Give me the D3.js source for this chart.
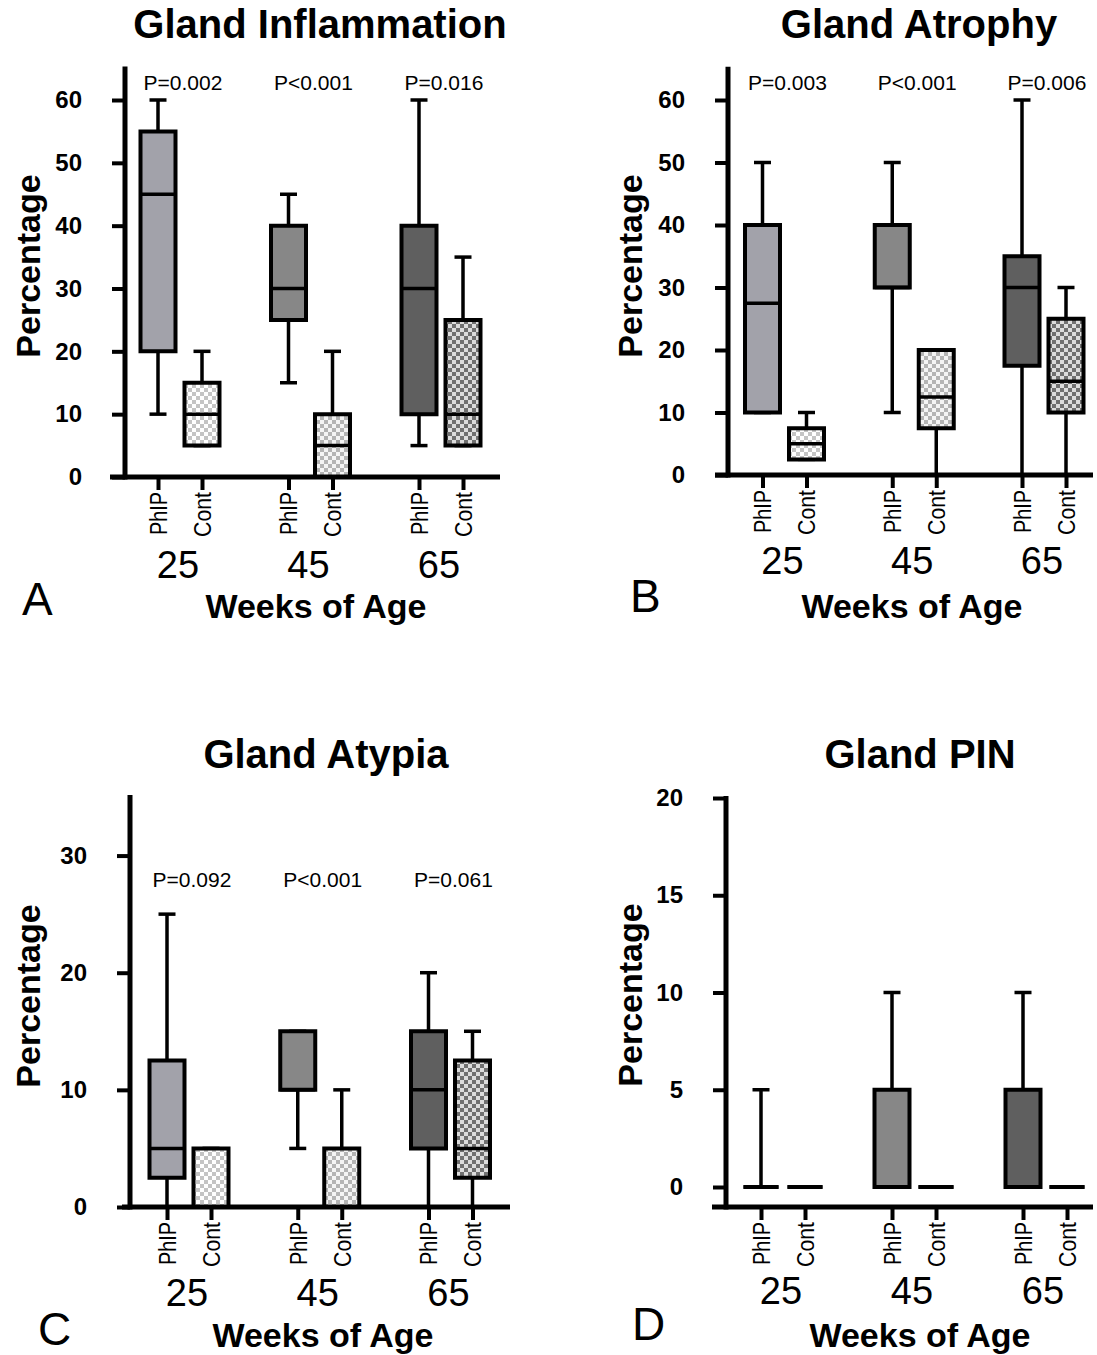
<!DOCTYPE html>
<html>
<head>
<meta charset="utf-8">
<script src="https://cdn.jsdelivr.net/npm/d3@7"></script>
<style>
  body { margin: 0; background: #fff; }
  svg { display: block; font-family: "Liberation Sans", Arial, sans-serif; }
</style>
</head>
<body>
<div id="chart"></div>
<script>
const weeks = ["25", "45", "65"];
const groups = ["PhIP", "Cont"];

// box stats per week: [min, q1, median, q3, max]
const inflammationPhIP = [[10, 20, 45, 55, 60], [15, 25, 30, 40, 45], [5, 10, 30, 40, 60]];
const inflammationCont = [[5, 5, 10, 15, 20], [0, 0, 5, 10, 20], [5, 5, 10, 25, 35]];
const inflammationP = ["P=0.002", "P<0.001", "P=0.016"];

const atrophyPhIP = [[10, 10, 27.5, 40, 50], [10, 30, 30, 40, 50], [0, 17.5, 30, 35, 60]];
const atrophyCont = [[2.5, 2.5, 5, 7.5, 10], [0, 7.5, 12.5, 20, 20], [0, 10, 15, 25, 30]];
const atrophyP = ["P=0.003", "P<0.001", "P=0.006"];

const atypiaPhIP = [[0, 2.5, 5, 12.5, 25], [5, 10, 10, 15, 15], [0, 5, 10, 15, 20]];
const atypiaCont = [[0, 0, 0, 5, 5], [0, 0, 0, 5, 10], [0, 2.5, 5, 12.5, 15]];
const atypiaP = ["P=0.092", "P<0.001", "P=0.061"];

const pinPhIP = [[0, 0, 0, 0, 5], [0, 0, 0, 5, 10], [0, 0, 0, 5, 10]];
const pinCont = [[0, 0, 0, 0, 0], [0, 0, 0, 0, 0], [0, 0, 0, 0, 0]];

const ticksHigh = [0, 10, 20, 30, 40, 50, 60];
const ticksAtypia = [0, 10, 20, 30];
const ticksPin = [0, 5, 10, 15, 20];

const phipFill = {"25": "#a2a2aa", "45": "#878787", "65": "#5f5f5f"};
const contInk = {"25": "#c4c4c4", "45": "#b4b4b4", "65": "#707070"};
const contPaper = {"25": "#ffffff", "45": "#f4f4f4", "65": "#dcdcdc"};

// panel layout (pixels)
const panels = [
  {title: "Gland Inflammation", letter: "A", phip: inflammationPhIP, cont: inflammationCont, pvals: inflammationP,
   ticks: ticksHigh, yMax: 60, axisTop: 65, ax: 125, y0: 477, yTop: 100, axisY: 477,
   xStart: 110, xEnd: 500, g0: 180, g2: 441, pY: 90, titleX: 320, titleY: 38,
   letterX: 22, letterY: 615, numY: 578, woaX: 316, woaY: 618, percX: 40, percY: 266},
  {title: "Gland Atrophy", letter: "B", phip: atrophyPhIP, cont: atrophyCont, pvals: atrophyP,
   ticks: ticksHigh, yMax: 60, axisTop: 65, ax: 728, y0: 475, yTop: 100, axisY: 475,
   xStart: 715, xEnd: 1093, g0: 784.5, g2: 1044, pY: 90, titleX: 919, titleY: 38,
   letterX: 630, letterY: 612, numY: 574, woaX: 912, woaY: 618, percX: 642, percY: 266},
  {title: "Gland Atypia", letter: "C", phip: atypiaPhIP, cont: atypiaCont, pvals: atypiaP,
   ticks: ticksAtypia, yMax: 35, axisTop: 35, ax: 130, y0: 1207, yTop: 797, axisY: 1207,
   xStart: 122, xEnd: 510, g0: 189, g2: 450.5, pY: 887, titleX: 326, titleY: 768,
   letterX: 38, letterY: 1345, numY: 1306, woaX: 323, woaY: 1347, percX: 40, percY: 996},
  {title: "Gland PIN", letter: "D", phip: pinPhIP, cont: pinCont, pvals: null,
   ticks: ticksPin, yMax: 20, axisTop: 20, ax: 726, y0: 1187, yTop: 798, axisY: 1207,
   xStart: 712, xEnd: 1093, g0: 783, g2: 1045, pY: 0, titleX: 920, titleY: 768,
   letterX: 632, letterY: 1340, numY: 1304, woaX: 920, woaY: 1347, percX: 642, percY: 995}
];

const svg = d3.select("#chart").append("svg")
    .attr("width", 1097)
    .attr("height", 1355);

// checkered patterns for the control boxes
const defs = svg.append("defs");
weeks.forEach(function(w) {
  const p = defs.append("pattern")
      .attr("id", "chk" + w)
      .attr("width", 8).attr("height", 8)
      .attr("patternUnits", "userSpaceOnUse");
  p.append("rect").attr("width", 8).attr("height", 8).attr("fill", contPaper[w]);
  p.append("rect").attr("width", 4).attr("height", 4).attr("fill", contInk[w]);
  p.append("rect").attr("x", 4).attr("y", 4).attr("width", 4).attr("height", 4).attr("fill", contInk[w]);
});

const boxW = 35, capW = 17;

panels.forEach(function(pn) {
  const g = svg.append("g");

  var y = d3.scaleLinear().domain([0, pn.yMax]).range([pn.y0, pn.yTop]);
  var xGroup = d3.scalePoint().domain(weeks).range([pn.g0, pn.g2]);
  var xSub = d3.scalePoint().domain(groups).range([-22, 22]);

  // whiskers and boxes
  weeks.forEach(function(w, i) {
    groups.forEach(function(grp) {
      const s = grp === "PhIP" ? pn.phip[i] : pn.cont[i];
      const cx = xGroup(w) + xSub(grp);
      const fill = grp === "PhIP" ? phipFill[w] : "url(#chk" + w + ")";

      g.append("line")
          .attr("x1", cx).attr("x2", cx)
          .attr("y1", y(s[0])).attr("y2", y(s[4]))
          .attr("stroke", "#000").attr("stroke-width", 3.5);
      [s[0], s[4]].forEach(function(v) {
        g.append("line")
            .attr("x1", cx - capW / 2).attr("x2", cx + capW / 2)
            .attr("y1", y(v)).attr("y2", y(v))
            .attr("stroke", "#000").attr("stroke-width", 3.5);
      });
      const x0 = cx - boxW / 2, x1 = cx + boxW / 2;
      g.append("path")
          .attr("d", "M" + x0 + "," + y(s[1]) + "H" + x1 + "V" + y(s[3]) + "H" + x0 + "Z")
          .attr("fill", fill)
          .attr("stroke", "#000").attr("stroke-width", 4)
          .attr("stroke-linejoin", "miter");
      g.append("line")
          .attr("x1", x0).attr("x2", x1)
          .attr("y1", y(s[2])).attr("y2", y(s[2]))
          .attr("stroke", "#000").attr("stroke-width", 3.5);
    });
  });

  // y axis
  const yAxis = g.append("g")
      .attr("transform", "translate(" + pn.ax + ",0)")
      .call(d3.axisLeft(y).tickValues(pn.ticks).tickSize(13).tickSizeOuter(0).tickPadding(30));
  yAxis.select(".domain").remove();
  yAxis.selectAll(".tick line").attr("stroke", "#000").attr("stroke-width", 4);
  yAxis.selectAll(".tick text")
      .attr("fill", "#000")
      .style("font-size", "24px").style("font-weight", "bold")
      .style("font-family", "'Liberation Sans', Arial, sans-serif");
  g.append("line")
      .attr("x1", pn.ax).attr("x2", pn.ax)
      .attr("y1", pn.axisY + 2.5).attr("y2", y(pn.axisTop) - 2)
      .attr("stroke", "#000").attr("stroke-width", 5);

  // x axis: one tick per box
  const keys = [], pos = [];
  weeks.forEach(function(w) {
    groups.forEach(function(grp) {
      keys.push(w + "|" + grp);
      pos.push(xGroup(w) + xSub(grp));
    });
  });
  const xBox = d3.scaleOrdinal().domain(keys).range(pos);
  const xAxis = g.append("g")
      .attr("transform", "translate(0," + pn.axisY + ")")
      .call(d3.axisBottom(xBox).tickSize(13).tickFormat(function(d) { return d.split("|")[1]; }));
  xAxis.select(".domain").remove();
  xAxis.selectAll(".tick line").attr("stroke", "#000").attr("stroke-width", 4);
  xAxis.selectAll(".tick text")
      .attr("fill", "#000")
      .attr("transform", "rotate(-90)")
      .attr("x", -15).attr("y", 0).attr("dy", "0.36em")
      .attr("text-anchor", "end")
      .attr("textLength", function(d) { return d.split("|")[1] === "PhIP" ? 43 : 45; })
      .attr("lengthAdjust", "spacingAndGlyphs")
      .style("font-size", "23px")
      .style("font-family", "'Liberation Sans', Arial, sans-serif");
  g.append("line")
      .attr("x1", pn.xStart).attr("x2", pn.xEnd)
      .attr("y1", pn.axisY).attr("y2", pn.axisY)
      .attr("stroke", "#000").attr("stroke-width", 5);

  // week numbers
  g.selectAll(".wk").data(weeks).enter().append("text")
      .attr("x", function(d) { return xGroup(d) - 2; })
      .attr("y", pn.numY)
      .attr("text-anchor", "middle")
      .style("font-size", "38px")
      .text(function(d) { return d; });

  // p values
  if (pn.pvals) {
    g.selectAll(".pv").data(weeks).enter().append("text")
        .attr("x", function(d) { return xGroup(d) + 3; })
        .attr("y", pn.pY)
        .attr("text-anchor", "middle")
        .style("font-size", "21px")
        .text(function(d, i) { return pn.pvals[i]; });
  }

  g.append("text")
      .attr("x", pn.titleX).attr("y", pn.titleY)
      .attr("text-anchor", "middle")
      .style("font-size", "40px").style("font-weight", "bold")
      .text(pn.title);

  g.append("text")
      .attr("transform", "translate(" + pn.percX + "," + pn.percY + ") rotate(-90)")
      .attr("text-anchor", "middle")
      .style("font-size", "34px").style("font-weight", "bold")
      .text("Percentage");

  g.append("text")
      .attr("x", pn.woaX).attr("y", pn.woaY)
      .attr("text-anchor", "middle")
      .style("font-size", "34px").style("font-weight", "bold")
      .text("Weeks of Age");

  g.append("text")
      .attr("x", pn.letterX).attr("y", pn.letterY)
      .style("font-size", "46px")
      .text(pn.letter);
});
</script>
</body>
</html>
